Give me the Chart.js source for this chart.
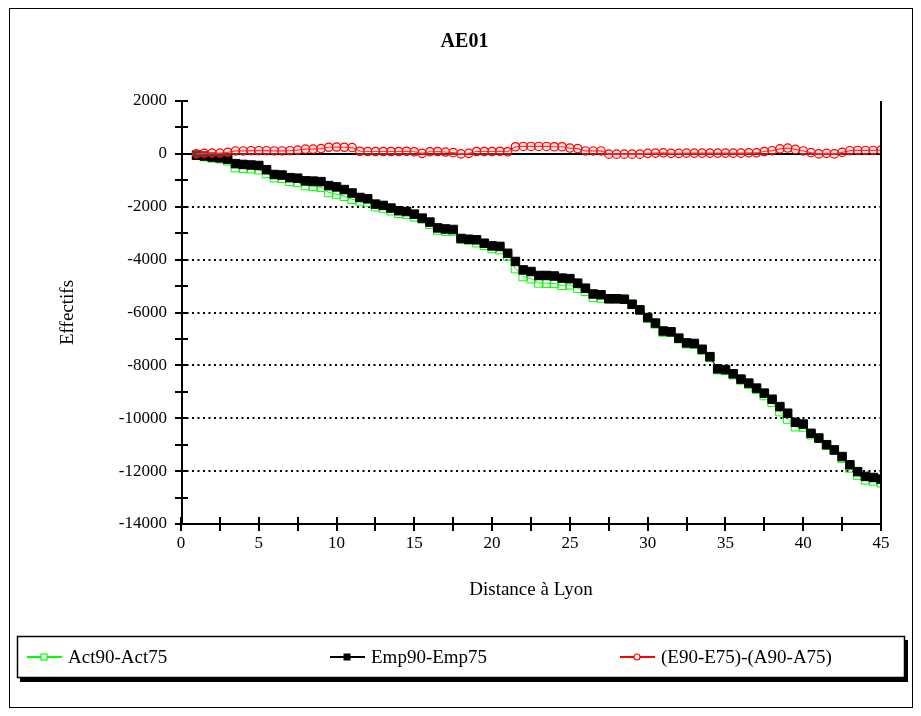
<!DOCTYPE html>
<html><head><meta charset="utf-8">
<script src="https://cdn.jsdelivr.net/npm/chart.js@4.4.0/dist/chart.umd.min.js"></script>
<style>html,body{margin:0;padding:0;background:#fff;}#wrap{position:relative;width:921px;height:716px;}</style>
</head><body><div id="wrap"><canvas id="c" width="921" height="716"></canvas></div>
<script>
const distances = [1,1.5,2,2.5,3,3.5,4,4.5,5,5.5,6,6.5,7,7.5,8,8.5,9,9.5,10,10.5,11,11.5,12,12.5,13,13.5,14,14.5,15,15.5,16,16.5,17,17.5,18,18.5,19,19.5,20,20.5,21,21.5,22,22.5,23,23.5,24,24.5,25,25.5,26,26.5,27,27.5,28,28.5,29,29.5,30,30.5,31,31.5,32,32.5,33,33.5,34,34.5,35,35.5,36,36.5,37,37.5,38,38.5,39,39.5,40,40.5,41,41.5,42,42.5,43,43.5,44,44.5,45];
const act = [-50,-100,-150,-180,-260,-520,-540,-560,-600,-740,-900,-920,-1040,-1080,-1200,-1230,-1260,-1460,-1520,-1600,-1720,-1780,-1820,-2000,-2050,-2150,-2250,-2280,-2380,-2460,-2660,-2880,-2920,-2920,-3220,-3260,-3360,-3460,-3580,-3620,-3860,-4340,-4640,-4720,-4880,-4890,-4900,-4970,-4950,-5080,-5200,-5420,-5450,-5480,-5480,-5500,-5690,-5900,-6210,-6430,-6740,-6750,-6990,-7180,-7200,-7420,-7700,-8160,-8190,-8350,-8550,-8710,-8900,-9140,-9400,-9750,-10030,-10320,-10330,-10620,-10750,-11020,-11200,-11510,-11880,-12150,-12330,-12370,-12440];
const emp = [-50,-80,-120,-150,-200,-370,-400,-420,-440,-600,-780,-800,-900,-920,-1020,-1030,-1050,-1200,-1250,-1350,-1480,-1650,-1700,-1900,-1950,-2050,-2150,-2180,-2280,-2430,-2580,-2800,-2840,-2860,-3200,-3230,-3250,-3380,-3480,-3500,-3760,-4070,-4390,-4450,-4600,-4600,-4620,-4700,-4720,-4890,-5080,-5300,-5330,-5480,-5480,-5500,-5690,-5900,-6190,-6400,-6700,-6730,-6970,-7150,-7170,-7390,-7670,-8130,-8160,-8320,-8520,-8670,-8860,-9050,-9280,-9560,-9810,-10150,-10220,-10570,-10750,-11000,-11200,-11450,-11760,-12020,-12200,-12240,-12300];
const diff = [0,20,30,30,60,110,110,120,120,120,110,110,120,140,180,180,200,250,260,250,240,100,90,90,90,90,90,100,80,20,80,90,70,50,0,20,90,90,90,100,80,270,280,280,280,280,270,270,220,200,110,110,110,-10,-10,-10,-10,-10,20,30,40,20,20,30,30,30,30,30,30,30,30,40,40,90,120,190,220,170,110,50,0,20,0,60,120,130,130,130,140];
const seriesNames = ['Act90-Act75','Emp90-Emp75','(E90-E75)-(A90-A75)'];
const yGridValues = [-2000,-4000,-6000,-8000,-10000,-12000];
const yTickMarks = [2000,1000,0,-1000,-2000,-3000,-4000,-5000,-6000,-7000,-8000,-9000,-10000,-11000,-12000,-13000,-14000];
const xTickMarks = [0,2.5,5,7.5,10,12.5,15,17.5,20,22.5,25,27.5,30,32.5,35,37.5,40,42.5,45];

const FAM = "'Liberation Serif','Times New Roman',serif";
const pts = arr => distances.map((d,i)=>({x:d,y:arr[i]}));

const decor = {
  id:'decor',
  beforeDraw(chart){
    const c = chart.ctx;
    c.save(); c.fillStyle='#fff'; c.fillRect(0,0,chart.width,chart.height); c.restore();
  },
  beforeDatasetsDraw(chart){
    const c = chart.ctx, ys = chart.scales.y, a = chart.chartArea;
    c.save();
    c.strokeStyle='#000'; c.lineWidth=2; c.setLineDash([2,3.5]);
    yGridValues.forEach(v=>{const p=Math.round(ys.getPixelForValue(v));c.beginPath();c.moveTo(a.left,p);c.lineTo(a.right,p);c.stroke();});
    c.setLineDash([]); c.lineWidth=2;
    const z=Math.round(ys.getPixelForValue(0)); c.beginPath(); c.moveTo(a.left,z); c.lineTo(a.right,z); c.stroke();
    c.restore();
  },
  afterDraw(chart){
    const c = chart.ctx, xs = chart.scales.x, ys = chart.scales.y, a = chart.chartArea;
    c.save();
    c.strokeStyle='#000'; c.lineWidth=2;
    c.beginPath();
    c.moveTo(a.left+1,a.top); c.lineTo(a.left+1,a.bottom);
    c.moveTo(a.left,a.bottom); c.lineTo(a.right+1,a.bottom);
    c.moveTo(a.right,a.top); c.lineTo(a.right,a.bottom);
    c.stroke();
    c.lineWidth=2; c.beginPath();
    yTickMarks.forEach(v=>{const p=Math.round(ys.getPixelForValue(v));c.moveTo(a.left-6,p);c.lineTo(a.left+7,p);});
    xTickMarks.forEach(v=>{const p=Math.round(xs.getPixelForValue(v));c.moveTo(p,a.bottom-7);c.lineTo(p,a.bottom+7);});
    c.stroke();
    c.lineWidth=1; c.strokeRect(9.5,8.5,903,699);
    c.fillStyle='#000'; c.fillRect(20,640,888,42);
    c.fillStyle='#fff'; c.fillRect(17,636,888,42);
    c.lineWidth=1.5; c.strokeRect(17.5,636.5,887,41);
    const items = [
      {x:27,label:seriesNames[0],col:'#00ff00',style:'rectO'},
      {x:330,label:seriesNames[1],col:'#000000',style:'rectF'},
      {x:620,label:seriesNames[2],col:'#ff0000',style:'circ'}
    ];
    const ly=657;
    c.font = '19px '+FAM; c.textBaseline='middle'; c.textAlign='left';
    items.forEach(it=>{
      c.strokeStyle=it.col; c.lineWidth=2; c.beginPath(); c.moveTo(it.x,ly); c.lineTo(it.x+35,ly); c.stroke();
      const mx=it.x+17;
      c.lineWidth=1.2;
      if(it.style==='rectO'){c.fillStyle='#fff';c.fillRect(mx-3,ly-3,6,6);c.strokeRect(mx-3,ly-3,6,6);}
      else if(it.style==='rectF'){c.fillStyle='#000';c.fillRect(mx-3.5,ly-3.5,7,7);}
      else {c.fillStyle='#fff';c.beginPath();c.arc(mx,ly,3,0,Math.PI*2);c.fill();c.stroke();}
      c.fillStyle='#000'; c.fillText(it.label,it.x+41,ly+1);
    });
    c.restore();
  }
};

new Chart(document.getElementById('c'),{
  type:'line',
  data:{datasets:[
    {label:seriesNames[2],data:pts(diff),borderColor:'#ff0000',borderWidth:1.2,pointStyle:'circle',pointRadius:4.2,pointBorderColor:'#ff0000',pointBackgroundColor:'rgba(255,170,170,0.35)',pointBorderWidth:1.2,order:0},
    {label:seriesNames[1],data:pts(emp),borderColor:'#000000',borderWidth:1,pointStyle:'rect',pointRadius:6,pointBorderColor:'#000',pointBackgroundColor:'#000',pointBorderWidth:1,order:1},
    {label:seriesNames[0],data:pts(act),borderColor:'#00ff00',borderWidth:1,pointStyle:'rect',pointRadius:6,pointBorderColor:'#00ff00',pointBackgroundColor:'rgba(255,255,255,0)',pointBorderWidth:1,order:2}
  ]},
  options:{
    responsive:false,animation:false,devicePixelRatio:1,
    layout:{padding:{left:48,right:40,top:0,bottom:0}},
    plugins:{
      legend:{display:false},tooltip:{enabled:false},
      title:{display:true,text:'AE01',color:'#000',font:{family:FAM,size:20,weight:'bold'},padding:{top:30,bottom:47}}
    },
    scales:{
      x:{type:'linear',min:0,max:45,
        ticks:{stepSize:5,color:'#000',font:{family:FAM,size:17},padding:9,maxRotation:0},
        grid:{display:false,drawTicks:false},border:{display:false},
        title:{display:true,text:'Distance à Lyon',color:'#000',font:{family:FAM,size:19},padding:{top:0,bottom:115}},
        afterFit(s){s.height=192;}
      },
      y:{min:-14000,max:2000,
        ticks:{stepSize:2000,color:'#000',font:{family:FAM,size:17},padding:14,callback:v=>String(v)},
        grid:{display:false,drawTicks:false},border:{display:false},
        title:{display:true,text:'Effectifs',color:'#000',font:{family:FAM,size:19},padding:{top:9,bottom:0}},
        afterFit(s){s.width=133;}
      }
    }
  },
  plugins:[decor]
});
</script></body></html>
